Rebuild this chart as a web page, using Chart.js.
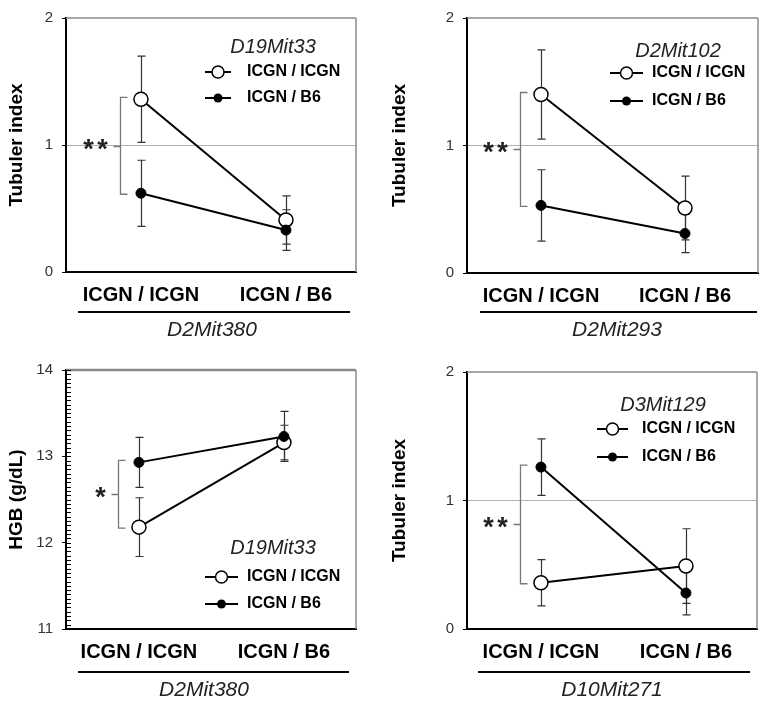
<!DOCTYPE html>
<html><head><meta charset="utf-8">
<script src="https://cdn.jsdelivr.net/npm/chart.js@4.4.1/dist/chart.umd.min.js"></script>
<style>
html,body{margin:0;padding:0;background:#fff;}
#wrap{position:relative;width:767px;height:705px;overflow:hidden;}
canvas{position:absolute;}
</style></head><body><div id="wrap"></div>
<script>
// ---- data ----
const categories = ['ICGN / ICGN', 'ICGN / B6'];
const seriesNames = ['ICGN / ICGN', 'ICGN / B6'];
const markerNames = ['D19Mit33', 'D2Mit102', 'D19Mit33', 'D3Mit129'];
const groupNames = ['D2Mit380', 'D2Mit293', 'D2Mit380', 'D10Mit271'];
const yTitles = ['Tubuler index', 'Tubuler index', 'HGB (g/dL)', 'Tubuler index'];
const yMins = [0, 0, 11, 0];
const yMaxs = [2, 2, 14, 2];
const sigLabels = ['**', '**', '*', '**'];

const panelA_open = [1.36, 0.41];
const panelA_openErr = [0.34, 0.19];
const panelA_filled = [0.62, 0.33];
const panelA_filledErr = [0.26, 0.16];

const panelB_open = [1.40, 0.51];
const panelB_openErr = [0.35, 0.25];
const panelB_filled = [0.53, 0.31];
const panelB_filledErr = [0.28, 0.15];

const panelC_open = [12.18, 13.16];
const panelC_openErr = [0.34, 0.20];
const panelC_filled = [12.93, 13.23];
const panelC_filledErr = [0.29, 0.29];

const panelD_open = [0.36, 0.49];
const panelD_openErr = [0.18, 0.29];
const panelD_filled = [1.26, 0.28];
const panelD_filledErr = [0.22, 0.17];

const panelData = [
  {open: panelA_open, openErr: panelA_openErr, filled: panelA_filled, filledErr: panelA_filledErr},
  {open: panelB_open, openErr: panelB_openErr, filled: panelB_filled, filledErr: panelB_filledErr},
  {open: panelC_open, openErr: panelC_openErr, filled: panelC_filled, filledErr: panelC_filledErr},
  {open: panelD_open, openErr: panelD_openErr, filled: panelD_filled, filledErr: panelD_filledErr}
];

// ---- layout (global page coordinates) ----
const layouts = [
  {left:0, top:0, w:383, h:345, ca:{l:66,r:356,t:14,b:272}, xmin:-0.517, xmax:1.483,
   leg:{hx:273,hy:47,lx0:205,lx1:231,ly:[72,98],tx:247}, uline:{x0:78,x1:350,y:312}, sub:{x:212,y:330}, minor:false},
  {left:383, top:0, w:384, h:345, ca:{l:467,r:758,t:15,b:273}, xmin:-0.514, xmax:1.507,
   leg:{hx:678,hy:51,lx0:610,lx1:643,ly:[73,101],tx:652}, uline:{x0:480,x1:757,y:312}, sub:{x:617,y:330}, minor:false},
  {left:0, top:345, w:383, h:360, ca:{l:66,r:356,t:370,b:629}, xmin:-0.503, xmax:1.497,
   leg:{hx:273,hy:548,lx0:205,lx1:238,ly:[577,604],tx:247}, uline:{x0:78,x1:349,y:672}, sub:{x:204,y:690}, minor:true},
  {left:383, top:345, w:384, h:360, ca:{l:467,r:757,t:372,b:629}, xmin:-0.51, xmax:1.49,
   leg:{hx:663,hy:405,lx0:597,lx1:628,ly:[429,457],tx:642}, uline:{x0:478,x1:750,y:672}, sub:{x:612,y:690}, minor:false}
];

const FONT = '"Liberation Sans", Arial, sans-serif';

const overlay = {
  id: 'overlay',
  beforeDatasetsDraw(chart, args, opts) {
    const ctx = chart.ctx, xs = chart.scales.x, ys = chart.scales.y;
    const D = opts.data, L = opts.layout, ca = chart.chartArea;
    ctx.save();
    ctx.strokeStyle = '#8a8a8a';
    ctx.lineWidth = L.minor ? 2.5 : 1.5;
    ctx.beginPath(); ctx.moveTo(ca.left, ca.top); ctx.lineTo(ca.right, ca.top); ctx.stroke();
    ctx.lineWidth = 1.5;
    ctx.beginPath(); ctx.moveTo(ca.right, ca.top); ctx.lineTo(ca.right, ca.bottom); ctx.stroke();
    if (L.minor) {
      ctx.strokeStyle = '#000'; ctx.lineWidth = 1;
      const n = Math.round((ys.max - ys.min) / 0.05);
      for (let k = 0; k <= n; k++) {
        const y = Math.round(ys.getPixelForValue(ys.min + k * 0.05)) + 0.5;
        ctx.beginPath(); ctx.moveTo(ca.left, y); ctx.lineTo(ca.left + 5, y); ctx.stroke();
      }
    }
    ctx.strokeStyle = '#333'; ctx.lineWidth = 1.2;
    [[D.open, D.openErr], [D.filled, D.filledErr]].forEach(([m, e]) => {
      m.forEach((v, i) => {
        const x = Math.round(xs.getPixelForValue(i)) + 0.5;
        const y1 = ys.getPixelForValue(v + e[i]), y2 = ys.getPixelForValue(v - e[i]);
        ctx.beginPath();
        ctx.moveTo(x, y1); ctx.lineTo(x, y2);
        ctx.moveTo(x - 4, y1); ctx.lineTo(x + 4, y1);
        ctx.moveTo(x - 4, y2); ctx.lineTo(x + 4, y2);
        ctx.stroke();
      });
    });
    ctx.restore();
  },
  afterDraw(chart, args, opts) {
    const ctx = chart.ctx, xs = chart.scales.x, ys = chart.scales.y;
    const D = opts.data, L = opts.layout, ox = L.left, oy = L.top, idx = opts.index;
    ctx.save();
    const bx = Math.round(xs.getPixelForValue(0) - 21) + 0.5;
    const yTop = ys.getPixelForValue(Math.max(D.open[0], D.filled[0])) - 2;
    const yBot = ys.getPixelForValue(Math.min(D.open[0], D.filled[0])) + 1;
    const yMid = Math.round((yTop + yBot) / 2) + 0.5;
    ctx.strokeStyle = '#777'; ctx.lineWidth = 1.3;
    ctx.beginPath();
    ctx.moveTo(bx + 7, yTop); ctx.lineTo(bx, yTop); ctx.lineTo(bx, yBot); ctx.lineTo(bx + 7, yBot);
    ctx.moveTo(bx, yMid); ctx.lineTo(bx - 7, yMid);
    ctx.stroke();
    const sz = 27;
    ctx.font = 'bold ' + sz + 'px ' + FONT; ctx.fillStyle = '#222';
    ctx.textAlign = 'center'; ctx.textBaseline = 'alphabetic';
    const stars = sigLabels[idx].split('');
    stars.forEach((s, k) => {
      const cx = bx - 18 - 14 * (stars.length - 1 - k);
      ctx.fillText(s, cx, yMid + 0.42 * sz);
    });
    const lg = L.leg;
    ctx.fillStyle = '#222'; ctx.textBaseline = 'middle';
    ctx.font = 'italic 20px ' + FONT;
    ctx.fillText(markerNames[idx], lg.hx - ox, lg.hy - oy);
    seriesNames.forEach((name, i) => {
      const y = lg.ly[i] - oy;
      ctx.strokeStyle = '#000'; ctx.lineWidth = 2;
      ctx.beginPath(); ctx.moveTo(lg.lx0 - ox, y); ctx.lineTo(lg.lx1 - ox, y); ctx.stroke();
      const mx = (lg.lx0 + lg.lx1) / 2 - ox;
      ctx.beginPath();
      if (i === 0) {
        ctx.arc(mx, y, 6, 0, Math.PI * 2); ctx.fillStyle = '#fff'; ctx.fill();
        ctx.lineWidth = 1.5; ctx.stroke();
      } else {
        ctx.arc(mx, y, 4.5, 0, Math.PI * 2); ctx.fillStyle = '#000'; ctx.fill();
      }
      ctx.fillStyle = '#000'; ctx.textAlign = 'left';
      ctx.font = 'bold 16px ' + FONT;
      ctx.fillText(name, lg.tx - ox, y);
      ctx.textAlign = 'center';
    });
    const u = L.uline;
    ctx.strokeStyle = '#000'; ctx.lineWidth = 2;
    ctx.beginPath(); ctx.moveTo(u.x0 - ox, u.y - oy); ctx.lineTo(u.x1 - ox, u.y - oy); ctx.stroke();
    ctx.font = 'italic 21px ' + FONT; ctx.fillStyle = '#222'; ctx.textAlign = 'center';
    ctx.fillText(groupNames[idx], L.sub.x - ox, L.sub.y - oy);
    ctx.restore();
  }
};

const wrap = document.getElementById('wrap');
layouts.forEach((L, idx) => {
  const cv = document.createElement('canvas');
  cv.width = L.w; cv.height = L.h;
  cv.style.left = L.left + 'px'; cv.style.top = L.top + 'px';
  cv.style.width = L.w + 'px'; cv.style.height = L.h + 'px';
  wrap.appendChild(cv);
  const D = panelData[idx];
  const caL = L.ca.l - L.left, caR = L.ca.r - L.left, caT = L.ca.t - L.top, caB = L.ca.b - L.top;
  new Chart(cv, {
    type: 'line',
    data: {
      datasets: [
        {label: seriesNames[1], data: categories.map((c, i) => ({x: i, y: D.filled[i]})),
         borderColor: '#000', borderWidth: 2, pointRadius: 5, pointBackgroundColor: '#000',
         pointBorderColor: '#000', pointBorderWidth: 1, tension: 0, order: 0},
        {label: seriesNames[0], data: categories.map((c, i) => ({x: i, y: D.open[i]})),
         borderColor: '#000', borderWidth: 2, pointRadius: 7, pointBackgroundColor: '#fff',
         pointBorderColor: '#000', pointBorderWidth: 1.5, tension: 0, order: 1}
      ]
    },
    options: {
      responsive: false, animation: false, devicePixelRatio: 1, events: [],
      layout: {padding: {left: 0, top: caT, right: L.w - caR, bottom: 0}},
      plugins: {legend: {display: false}, tooltip: {enabled: false},
        overlay: {data: D, layout: L, index: idx}},
      scales: {
        x: {
          type: 'linear', min: L.xmin, max: L.xmax,
          afterBuildTicks: s => { s.ticks = categories.map((c, i) => ({value: i})); },
          afterFit: s => { s.height = L.h - caB; },
          grid: {display: false},
          border: {display: true, color: '#000', width: 2},
          ticks: {autoSkip: false, maxRotation: 0, padding: 3, color: '#000',
            font: {family: FONT, size: 20, weight: 'bold'},
            callback: v => categories[v]}
        },
        y: {
          min: yMins[idx], max: yMaxs[idx],
          afterFit: s => { s.width = caL; },
          border: {display: true, color: '#000', width: 2},
          grid: {drawOnChartArea: !L.minor, color: c => (c.tick && c.tick.value === 1 && !L.minor) ? '#b0b0b0' : 'rgba(0,0,0,0)',
            tickColor: '#000', tickLength: 4, lineWidth: 1},
          ticks: {stepSize: 1, padding: 9, color: '#333', font: {family: FONT, size: 15}},
          title: {display: true, text: yTitles[idx], color: '#000', padding: {top: 5, bottom: 0},
            font: {family: FONT, size: 19, weight: 'bold'}}
        }
      }
    },
    plugins: [overlay]
  });
});
</script></body></html>
